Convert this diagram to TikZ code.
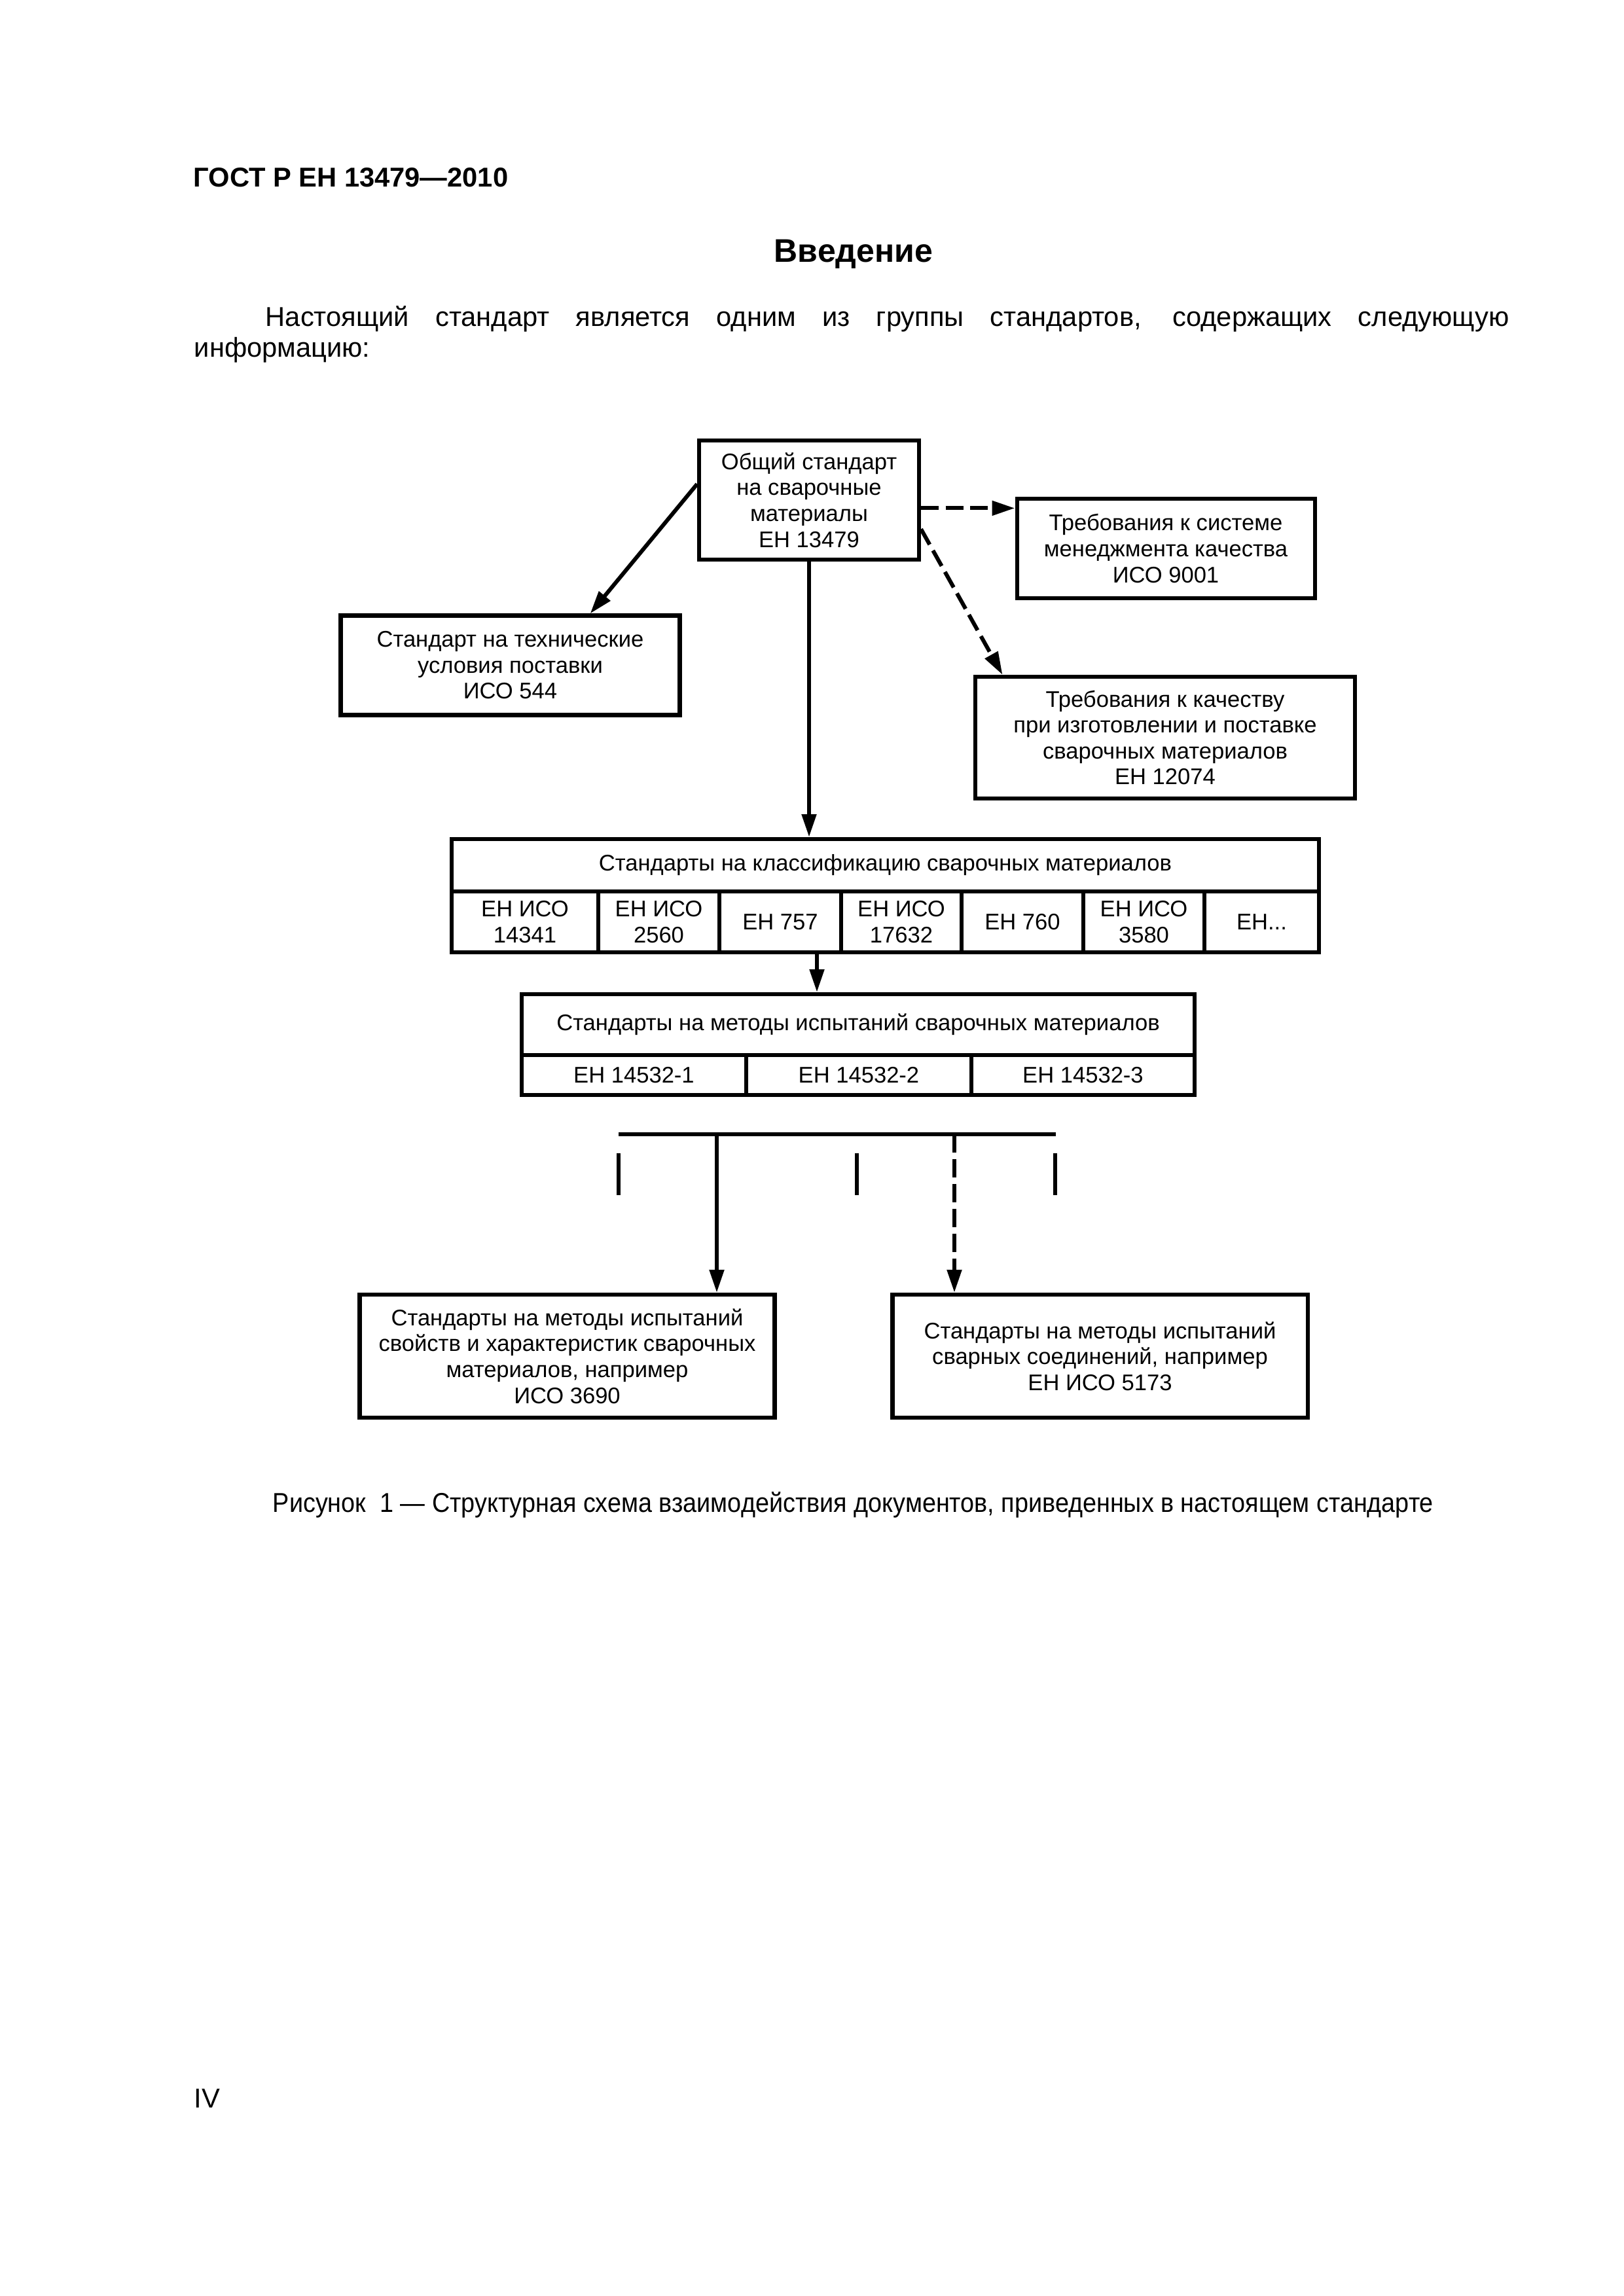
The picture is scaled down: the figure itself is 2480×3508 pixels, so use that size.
\documentclass[tikz,border=0pt]{standalone}
\usepackage{fontspec}
\setmainfont{Liberation Sans}
\usetikzlibrary{arrows.meta,calc}
\newcommand\boxfont{\fontsize{8.3}{9.5}\selectfont}
\newcommand\bodyfont{\fontsize{10}{12}\selectfont}
\tikzset{
  wh/.style 2 args={minimum width=#1*0.240032pt, minimum height=#2*0.240032pt},
  box/.style={draw, line width=1.45pt, inner sep=0pt, align=center, font=\boxfont},
  conn/.style={line width=1.45pt},
  arr/.style={conn, -{Triangle[length=8.4pt,width=5.2pt]}},
  darr/.style={arr, dash pattern=on 6.5pt off 2.5pt},
  txt/.style={inner sep=0pt, anchor=base west, font=\bodyfont},
}
\begin{document}
\begin{tikzpicture}[x=0.240032pt,y=-0.240032pt]
\useasboundingbox[fill=white] (0,0) rectangle (2480,3508);

% page texts
\node[txt, font=\bfseries\fontsize{10}{12}\selectfont] (hdr) at (295,285) {ГОСТ Р ЕН 13479—2010};
\node[inner sep=0pt, anchor=base, font=\bfseries\fontsize{12}{14}\selectfont] (intro) at (1304,400) {Введение};
\node[txt] (p1) at (405,498) {\makebox[456pt][s]{Настоящий стандарт является одним из группы стандартов, содержащих следующую}};
\node[txt] (p2) at (296,545) {информацию:};

% boxes
\node[box, wh={336}{182}] (top) at (1236,764) {Общий стандарт\\на сварочные\\материалы\\ЕН 13479};
\node[box, wh={455}{152}] (qms) at (1781,838) {Требования к системе\\менеджмента качества\\ИСО 9001};
\node[box, wh={518}{152}] (iso544) at (779.5,1016.5) {Стандарт на технические\\условия поставки\\ИСО 544};
\node[box, wh={580}{186}] (en12074) at (1780,1127) {Требования к качеству\\при изготовлении и поставке\\сварочных материалов\\ЕН 12074};

% classification table
\node[box, wh={1325}{80}] (clshdr) at (1352.5,1322) {Стандарты на классификацию сварочных материалов};
\node[box, wh={224}{93}] (c1) at (802,1408.5) {ЕН ИСО\\14341};
\node[box, wh={185}{93}] (c2) at (1006.5,1408.5) {ЕН ИСО\\2560};
\node[box, wh={186}{93}] (c3) at (1192,1408.5) {ЕН 757};
\node[box, wh={184}{93}] (c4) at (1377,1408.5) {ЕН ИСО\\17632};
\node[box, wh={186}{93}] (c5) at (1562,1408.5) {ЕН 760};
\node[box, wh={185}{93}] (c6) at (1747.5,1408.5) {ЕН ИСО\\3580};
\node[box, wh={175}{93}] (c7) at (1927.5,1408.5) {ЕН...};

% test methods table
\node[box, wh={1028}{93}] (tsthdr) at (1311,1565.5) {Стандарты на методы испытаний сварочных материалов};
\node[box, wh={343}{61}] (t1) at (968.5,1642.5) {ЕН 14532-1};
\node[box, wh={344}{61}] (t2) at (1312,1642.5) {ЕН 14532-2};
\node[box, wh={341}{61}] (t3) at (1654.5,1642.5) {ЕН 14532-3};

% bottom boxes
\node[box, wh={634}{188}] (bl) at (866.5,2072) {Стандарты на методы испытаний\\свойств и характеристик сварочных\\материалов, например\\ИСО 3690};
\node[box, wh={634}{188}] (br) at (1680.5,2072) {Стандарты на методы испытаний\\сварных соединений, например\\ЕН ИСО 5173};

% connectors from top box
\coordinate (tl) at ($(top.north west)!0.37!(top.south west)$);
\coordinate (tr1) at ($(top.north east)!0.566!(top.south east)$);
\coordinate (tr2) at ($(top.north east)!0.736!(top.south east)$);
\draw[arr] (tl) -- ($(iso544.north west)!0.733!(iso544.north east)$);
\draw[darr] (tr1) -- (tr1 -| qms.west);
\draw[darr] (tr2) -- ($(en12074.north west)!0.076!(en12074.north east)$);
\draw[arr] (top.south) -- (top.south |- clshdr.north);

% classification -> test methods
\coordinate (a1) at (1248,1455);
\draw[arr] (a1) -- (a1 |- tsthdr.north);

% bar and branches
\coordinate (barL) at (945,1733);
\coordinate (barR) at (1613,1733);
\draw[conn] (barL) -- (barR);
\draw[conn] (945,1762) -- (945,1826);
\draw[conn] (1309,1762) -- (1309,1826);
\draw[conn] (1612,1762) -- (1612,1826);
\coordinate (s1) at (1095,1733);
\coordinate (d1) at (1458,1733);
\draw[arr] (s1) -- (s1 |- bl.north);
\draw[darr, dash pattern=on 6.7pt off 2.4pt] (d1) -- (d1 |- br.north);

% caption and page number
\node[txt] (cap) at (416,2310) {\resizebox{425.6pt}{\height}{Рисунок\ \ 1 — Структурная схема взаимодействия документов, приведенных в настоящем стандарте}};
\node[txt] (pg) at (296,3220) {IV};
\end{tikzpicture}
\end{document}
